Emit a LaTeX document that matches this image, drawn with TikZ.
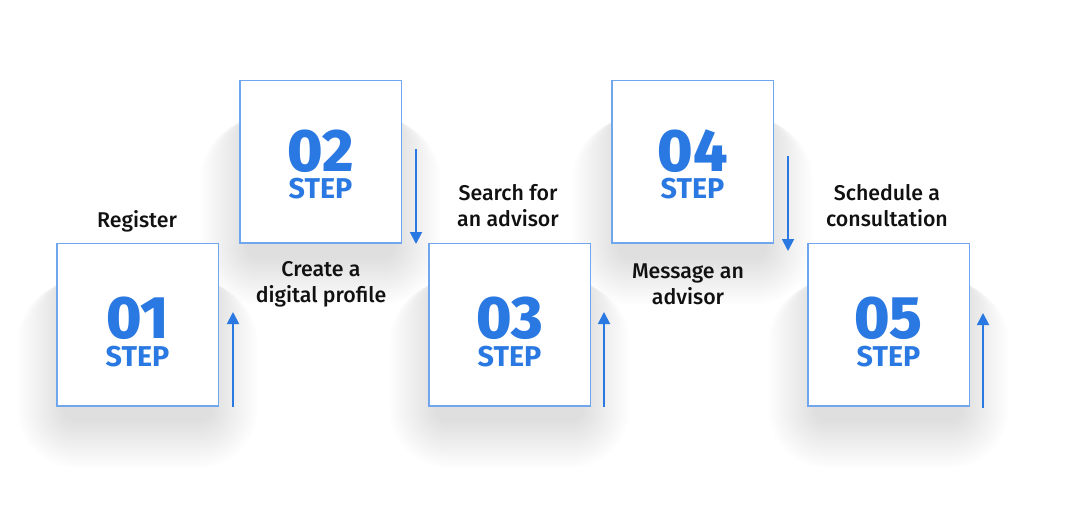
\documentclass[tikz,border=0pt]{standalone}
\usepackage{fontspec}
\setmainfont{Fira Sans}
\newfontfamily\lblfont{Fira Sans}[UprightFont=* Medium]
\newfontfamily\numfont{Fira Sans}[UprightFont=* ExtraBold]
\usetikzlibrary{arrows.meta}
\definecolor{stepblue}{HTML}{2A78E2}
\definecolor{edgeblue}{HTML}{6FA6EE}
\definecolor{labelc}{HTML}{111111}
\tikzset{
  stepbox/.style={draw=edgeblue, line width=1pt, fill=white, minimum width=121pt, minimum height=122pt, inner sep=0pt},
  num/.style={text=stepblue, font=\fontsize{45}{45}\selectfont\numfont, inner sep=0pt, text height=31pt, text depth=0pt},
  steptxt/.style={text=stepblue, font=\fontsize{21.5}{21.5}\selectfont\bfseries, inner sep=0pt, text height=14.8pt, text depth=0pt},
  lbl/.style={text=labelc, font=\fontsize{16}{19.5}\selectfont\lblfont, align=center, inner sep=0pt},
  flow/.style={draw=stepblue, line width=1.4pt, -{Triangle[length=9pt,width=9pt]}},
  glow/.style={fill=black, fill opacity=0.0075, draw=none}
}
\newcommand{\softshadow}[2]{%
  \foreach \e in {0,3,...,45}{
    \fill[glow, rounded corners=\e*0.75pt+10pt] (#1-75-\e,#2-50+\e*0.2) rectangle (#1+75+\e,#2+98+\e);
  }}
\begin{document}
\begin{tikzpicture}[x=0.75pt,y=-0.75pt]
\useasboundingbox (0,0) rectangle (1066,511);
% shadows
\softshadow{137.5}{324.5}
\softshadow{320.5}{161.5}
\softshadow{509.5}{324.5}
\softshadow{692.5}{161.5}
\softshadow{888.5}{324.5}
% boxes
\node[stepbox] (b1) at (137.5,324.5) {};
\node[stepbox] (b2) at (320.5,161.5) {};
\node[stepbox] (b3) at (509.5,324.5) {};
\node[stepbox] (b4) at (692.5,161.5) {};
\node[stepbox] (b5) at (888.5,324.5) {};
% numbers
\node[num] (n1) at (137.5,317.5) {01};
\node[steptxt] (s1) at (137.5,357) {STEP};
\node[num] (n2) at (320.5,150.5) {02};
\node[steptxt] (s2) at (320.5,189) {STEP};
\node[num] (n3) at (509.5,317.5) {03};
\node[steptxt] (s3) at (509.5,357) {STEP};
\node[num] (n4) at (692.5,150.5) {04};
\node[steptxt] (s4) at (692.5,189) {STEP};
\node[num] (n5) at (888.5,317.5) {05};
\node[steptxt] (s5) at (888.5,357) {STEP};
% labels
\node[lbl] (l1) at (137,221) {Register};
\node[lbl] (l2) at (321,284) {Create a\\digital profile};
\node[lbl] (l3) at (508,206) {Search for\\an advisor};
\node[lbl] (l4) at (688,284) {Message an\\advisor};
\node[lbl] (l5) at (887,206) {Schedule a\\consultation};
% arrows
\coordinate (a1s) at (233,407); \coordinate (a1e) at (233,312);
\coordinate (a2s) at (416,149); \coordinate (a2e) at (416,244);
\coordinate (a3s) at (604,407); \coordinate (a3e) at (604,312);
\coordinate (a4s) at (788,156); \coordinate (a4e) at (788,251);
\coordinate (a5s) at (983,408); \coordinate (a5e) at (983,313);
\draw[flow] (a1s) -- (a1e);
\draw[flow] (a2s) -- (a2e);
\draw[flow] (a3s) -- (a3e);
\draw[flow] (a4s) -- (a4e);
\draw[flow] (a5s) -- (a5e);
\end{tikzpicture}
\end{document}
